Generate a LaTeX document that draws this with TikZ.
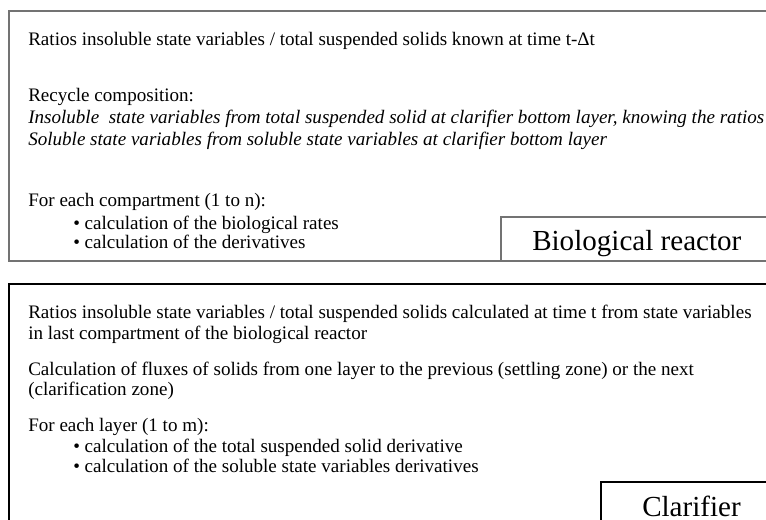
\documentclass[tikz,border=0pt]{standalone}
\usepackage{fontspec}
\setmainfont{Liberation Serif}
\begin{document}
\begin{tikzpicture}[x=0.75pt,y=-0.75pt,
  body/.style={anchor=base west, inner sep=0pt, font=\fontsize{14.3}{16}\selectfont},
  slant/.style={body, font=\fontsize{14.3}{16}\selectfont\itshape},
  title/.style={anchor=base west, inner sep=0pt, font=\fontsize{21.8}{24}\selectfont},
  greyframe/.style={draw=black!55, line width=1.5pt},
  blackframe/.style={draw=black, line width=0.8pt}]
\useasboundingbox (0,0) rectangle (766,519);
\clip (0,0) rectangle (766,519);

% Biological reactor panel
\draw[greyframe] (9,11) rectangle (800,261);
\draw[greyframe] (501,217) rectangle (800,261);
\node[body] (r1) at (28,45) {Ratios insoluble state variables / total suspended solids known at time t-Δt};
\node[body] (r2) at (28,101) {Recycle composition:};
\node[slant] (r3) at (28,123) {Insoluble\ \ state variables from total suspended solid at clarifier bottom layer, knowing the ratios};
\node[slant] (r4) at (28,145) {Soluble state variables from soluble state variables at clarifier bottom layer};
\node[body] (r5) at (28,206) {For each compartment (1 to n):};
\node[body] (r6) at (73,229) {• calculation of the biological rates};
\node[body] (r7) at (73,248) {• calculation of the derivatives};
\node[title] (rt) at (532,250) {Biological reactor};

% Clarifier panel
\draw[blackframe] (9,284) rectangle (800,560);
\draw[blackframe] (601,482) rectangle (800,560);
\node[body] (c1) at (28,318) {Ratios insoluble state variables / total suspended solids calculated at time t from state variables};
\node[body] (c2) at (28,339) {in last compartment of the biological reactor};
\node[body] (c3) at (28,375) {Calculation of fluxes of solids from one layer to the previous (settling zone) or the next};
\node[body] (c4) at (28,395) {(clarification zone)};
\node[body] (c5) at (28,431) {For each layer (1 to m):};
\node[body] (c6) at (73,452) {• calculation of the total suspended solid derivative};
\node[body] (c7) at (73,472) {• calculation of the soluble state variables derivatives};
\node[title] (ct) at (642,516) {Clarifier};
\end{tikzpicture}
\end{document}
